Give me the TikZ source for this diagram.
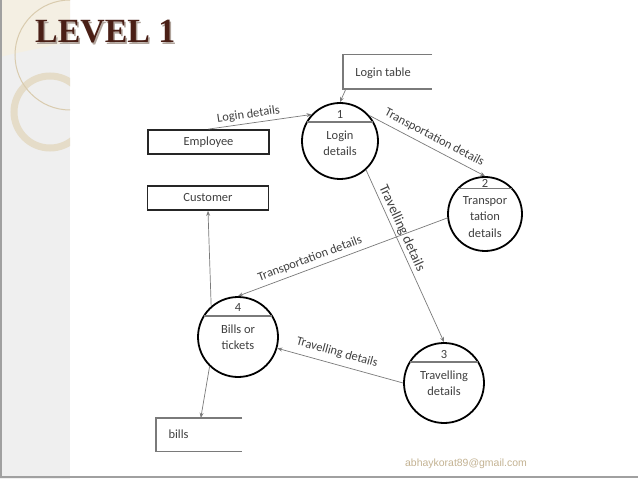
\documentclass[tikz,border=0pt]{standalone}
\usepackage{fontspec}
\setmainfont{Carlito}
\newfontfamily\titlefont{Liberation Serif}
\newfontfamily\mailfont{Liberation Sans}
\usetikzlibrary{arrows.meta,calc}
\definecolor{sidegray}{HTML}{EFEFEF}
\definecolor{topbeige}{HTML}{F4EFE3}
\definecolor{ringbeige}{HTML}{E5DCC8}
\definecolor{thinbeige}{HTML}{D9CBAE}
\definecolor{bordergray}{HTML}{A0A0A0}
\definecolor{titlebrown}{HTML}{4A1F16}
\definecolor{titleshadow}{HTML}{B0A49C}
\definecolor{txtgray}{HTML}{404040}
\definecolor{linegray}{HTML}{7A7A7A}
\definecolor{mailcol}{HTML}{C4B393}
\tikzset{
  proc/.style={circle, draw=black, line width=1.8bp, minimum size=#1, inner sep=0pt},
  extbox/.style={rectangle, draw=black!85, line width=1.8bp, minimum width=121bp, minimum height=24bp, inner sep=0pt, font=\fontsize{12.5}{14}\selectfont, text=txtgray},
  storebox/.style={rectangle, inner sep=0pt},
  storeline/.style={draw=linegray, line width=1.4bp},
  divider/.style={draw=linegray, line width=1.3bp},
  txt/.style={font=\fontsize{12.5}{16.5}\selectfont, text=txtgray, align=center, inner sep=0pt},
  flow/.style={draw=linegray, line width=0.7bp, -{Stealth[length=5bp,width=4bp]}},
  lbl/.style={font=\fontsize{12.5}{14}\selectfont, text=txtgray, sloped, above, inner sep=3bp},
}
\begin{document}
\begin{tikzpicture}[x=1bp,y=-1bp]
\useasboundingbox (0,0) rectangle (638,479);
\fill[white] (0,0) rectangle (638,479);
% sidebar decoration
\begin{scope}
  \clip (0,0) rectangle (70,479);
  \fill[sidegray] (0,0) rectangle (70,479);
  \fill[topbeige] (0,0) -- (70,0) -- (70,42) .. controls (45,47) and (20,52) .. (0,57) -- cycle;
  \draw[ringbeige, line width=7bp] (50,112) circle (36);
  \draw[thinbeige, line width=1bp] (70,55) circle (55);
\end{scope}
\draw[bordergray, line width=1.5bp] (0.75,0) -- (0.75,477) -- (638,477);
% title
\node[anchor=base west, font=\titlefont\bfseries\fontsize{34}{34}\selectfont, text=titleshadow, inner sep=0pt] (titleshadow) at (36.5,44.5) {LEVEL 1};
\node[anchor=base west, font=\titlefont\bfseries\fontsize{34}{34}\selectfont, text=titlebrown, inner sep=0pt] (title) at (35,43) {LEVEL 1};

% external entities
\node[extbox] (emp) at (208.5,142) {Employee};
\node[extbox] (cust) at (208,198) {Customer};

% data stores
\node[storebox, minimum width=89bp, minimum height=34bp] (lt) at (387.5,72) {};
\path[storeline] (lt.north east) -- (lt.north west) -- (lt.south west) -- (lt.south east);
\node[txt] (lttxt) at (383,73) {Login table};
\node[storebox, minimum width=86bp, minimum height=33bp] (bills) at (199,434.5) {};
\path[storeline] (bills.north east) -- (bills.north west) -- (bills.south west) -- (bills.south east);
\node[txt] (billstxt) at (178.5,434) {bills};

% processes
\node[proc=76bp] (c1) at (340,141) {};
\path[divider] ($(c1)+(-32.9,-19)$) -- ($(c1)+(32.9,-19)$);
\node[txt] (c1num) at ($(c1)+(0,-27)$) {1};
\node[txt] (c1txt) at ($(c1)+(0,2)$) {Login\\details};

\node[proc=74bp] (c2) at (485,214) {};
\path[divider] ($(c2)+(-27.1,-25.2)$) -- ($(c2)+(27.1,-25.2)$);
\node[txt] (c2num) at ($(c2)+(0,-31)$) {2};
\node[txt] (c2txt) at ($(c2)+(0,3)$) {Transpor\\tation\\details};

\node[proc=80bp] (c3) at (444,383) {};
\path[divider] ($(c3)+(-34,-21)$) -- ($(c3)+(34,-21)$);
\node[txt] (c3num) at ($(c3)+(0,-29)$) {3};
\node[txt] (c3txt) at ($(c3)+(0,0)$) {Travelling\\details};

\node[proc=80bp] (c4) at (238,337) {};
\path[divider] ($(c4)+(-34,-21)$) -- ($(c4)+(34,-21)$);
\node[txt] (c4num) at ($(c4)+(0,-29)$) {4};
\node[txt] (c4txt) at ($(c4)+(0,0)$) {Bills or\\tickets};

% flows
\draw[flow] ($(lt.south west)+(3,0)$) -- (c1.north);
\draw[flow] (emp.north) -- node[lbl, pos=0.4] (l1) {Login details} (c1.137);
\draw[flow] (c1.41) -- node[lbl, pos=0.52, inner sep=5bp] (l2) {Transportation details} (c2.north);
\draw[flow] (c1.-48) -- node[lbl, pos=0.36, font=\fontsize{14}{16}\selectfont, inner sep=2bp] (l3) {Travelling details} (c3.north);
\draw[flow] (c2.186) -- node[lbl, pos=0.64, inner sep=4bp] (l4) {Transportation details} (c4.north);
\draw[flow] (c3.west) -- node[lbl, pos=0.55, inner sep=6bp] (l5) {Travelling details} (c4.-16);
\draw[flow] (c4.131) -- (cust.south);
\draw[flow] (c4.226) -- ($(bills.north west)+(45,0)$);

% footer
\node[font=\mailfont\fontsize{10.5}{12}\selectfont, text=mailcol] (mail) at (466,464) {abhaykorat89@gmail.com};
\end{tikzpicture}
\end{document}
